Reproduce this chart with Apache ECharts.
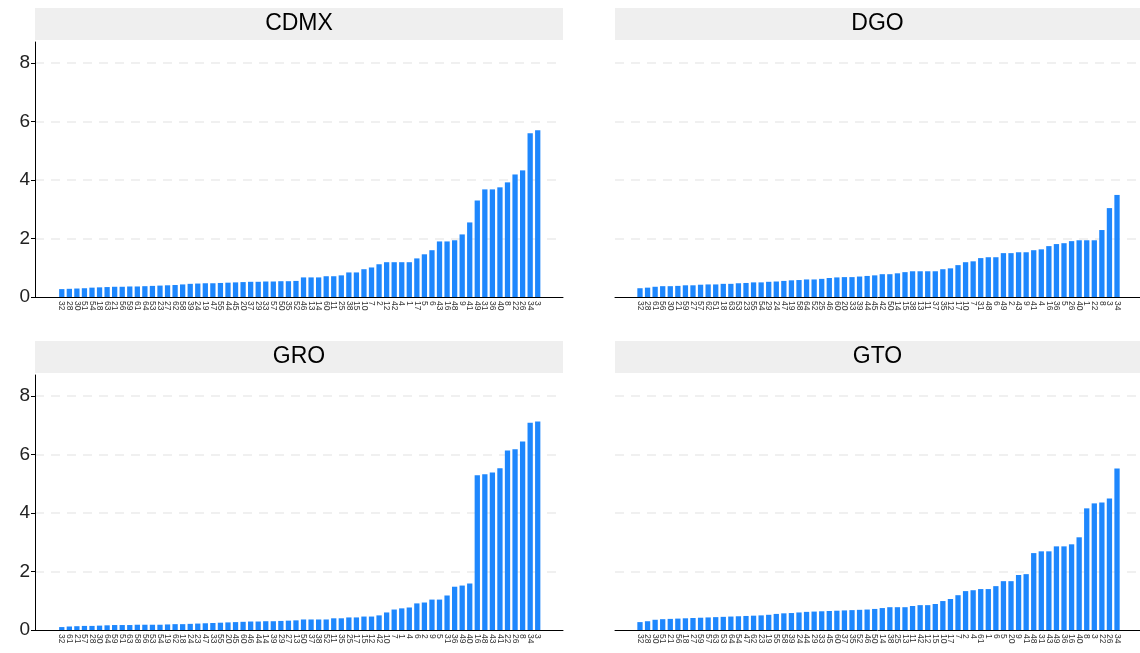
<!DOCTYPE html>
<html>
<head>
<meta charset="utf-8">
<script src="https://cdn.jsdelivr.net/npm/echarts@6/dist/echarts.min.js"></script>
<style>
  html, body { margin: 0; padding: 0; background: #fff; }
  #chart { width: 1140px; height: 653px; }
</style>
</head>
<body>
<div id="chart"></div>
<script>
// category labels and values, one pair per panel
const catsCDMX = ['32','28','30','51','54','18','63','21','56','59','61','64','53','23','27','62','58','39','24','19','47','55','44','45','20','37','29','33','57','50','35','52','46','13','14','60','11','25','38','15','10','7','2','12','42','4','1','17','5','6','43','16','48','9','41','49','31','36','40','8','22','26','34','3']
const valsCDMX = [0.27,0.28,0.29,0.30,0.32,0.33,0.34,0.35,0.35,0.36,0.36,0.37,0.38,0.39,0.40,0.41,0.43,0.45,0.46,0.47,0.47,0.48,0.49,0.50,0.51,0.52,0.52,0.53,0.53,0.54,0.54,
  0.55,0.67,0.67,0.67,0.71,0.71,0.74,0.84,0.84,0.95,1.01,1.12,1.19,1.19,1.19,1.19,1.32,1.46,1.60,1.90,1.90,1.94,2.14,2.55,3.30,3.68,3.68,3.75,3.92,4.19,4.33,5.60,5.70]

const catsDGO = ['32','28','61','56','30','21','59','27','57','62','51','18','63','53','23','55','54','29','24','47','19','58','64','52','25','46','60','20','33','39','44','45','42','50','14','15','38','13','11','37','35','12','17','10','7','31','48','6','49','2','43','9','41','4','16','36','5','26','40','1','22','8','3','34']
const valsDGO = [0.30,0.32,0.35,0.37,0.37,0.38,0.40,0.40,0.42,0.43,0.43,0.45,0.45,0.47,0.48,0.50,0.50,0.52,0.53,0.55,0.57,0.58,0.60,0.60,0.62,0.65,0.67,0.68,0.68,0.70,0.72,
  0.74,0.78,0.78,0.81,0.85,0.88,0.88,0.88,0.88,0.95,0.98,1.09,1.19,1.22,1.33,1.36,1.36,1.50,1.50,1.53,1.53,1.60,1.63,1.74,1.81,1.84,1.91,1.94,1.94,1.94,2.29,3.04,3.49]

const catsGRO = ['32','61','21','57','28','30','64','59','51','63','58','56','53','54','19','62','18','24','23','47','33','55','20','45','60','46','44','14','39','29','27','13','50','37','38','52','11','35','25','17','15','12','42','10','7','1','4','6','2','9','5','31','36','49','40','16','48','43','41','22','26','8','34','3']
const valsGRO = [0.10,0.12,0.13,0.14,0.14,0.15,0.16,0.17,0.17,0.17,0.18,0.18,0.18,0.18,0.19,0.20,0.20,0.21,0.22,0.23,0.24,0.25,0.26,0.27,0.28,0.29,0.29,0.30,0.30,0.31,0.32,
  0.33,0.36,0.36,0.36,0.36,0.40,0.40,0.43,0.43,0.46,0.46,0.50,0.60,0.70,0.74,0.77,0.91,0.94,1.04,1.04,1.18,1.48,1.52,1.59,5.29,5.33,5.39,5.53,6.14,6.18,6.45,7.09,7.13]

const catsGTO = ['32','28','30','51','21','56','18','27','59','57','63','53','64','54','47','62','23','19','55','58','39','24','44','29','33','45','60','37','35','52','46','50','14','38','25','13','11','42','12','15','10','17','7','2','4','61','1','6','5','20','9','41','48','31','43','49','36','16','40','8','3','22','26','34']
const valsGTO = [0.27,0.30,0.35,0.37,0.38,0.39,0.40,0.41,0.42,0.43,0.44,0.45,0.46,0.47,0.48,0.49,0.50,0.52,0.55,0.57,0.58,0.60,0.62,0.63,0.64,0.65,0.66,0.67,0.68,0.69,0.70,
  0.72,0.75,0.78,0.78,0.78,0.82,0.85,0.85,0.89,0.99,1.06,1.19,1.33,1.36,1.40,1.40,1.50,1.67,1.67,1.88,1.91,2.63,2.69,2.69,2.86,2.86,2.93,3.17,4.16,4.33,4.36,4.50,5.52]

const yTicks = [0, 2, 4, 6, 8]
const yMax = 8.72

const panels = [
  { name: 'CDMX', cats: catsCDMX, vals: valsCDMX, left: 35, width: 528, top: 42, barLeft: 58, barWidth: 483.5, showY: true },
  { name: 'DGO', cats: catsDGO, vals: valsDGO, left: 615, width: 525, top: 42, barLeft: 636.2, barWidth: 484.6, showY: false },
  { name: 'GRO', cats: catsGRO, vals: valsGRO, left: 35, width: 528, top: 375, barLeft: 58, barWidth: 483.5, showY: true },
  { name: 'GTO', cats: catsGTO, vals: valsGTO, left: 615, width: 525, top: 375, barLeft: 636.2, barWidth: 484.6, showY: false }
]
const plotH = 255
const font = '"Liberation Sans", Arial, sans-serif'

const grid = []
const xAxis = []
const yAxis = []
const series = []
const graphic = []

panels.forEach((p, i) => {
  const a = i * 2
  const b = a + 1
  // frame grid: axis line, y labels, dashed gridlines
  grid.push({ left: p.left, top: p.top, width: p.width, height: plotH })
  // bar grid: narrower so the bars sit inside the frame
  grid.push({ left: p.barLeft, top: p.top, width: p.barWidth, height: plotH })

  xAxis.push({
    gridIndex: a, type: 'value', min: 0, max: 1,
    axisLine: { show: true, lineStyle: { color: '#000', width: 1 } },
    axisTick: { show: false }, axisLabel: { show: false }, splitLine: { show: false }
  })
  xAxis.push({
    gridIndex: b, type: 'category', data: p.cats,
    axisLine: { show: false }, axisTick: { show: false },
    axisLabel: { interval: 0, rotate: -90, fontSize: 8.5, color: '#333', margin: 4, fontFamily: font }
  })

  yAxis.push({
    gridIndex: a, type: 'value', min: 0, max: yMax, interval: 2,
    axisLine: { show: p.showY, lineStyle: { color: '#000', width: 1 } },
    axisTick: { show: p.showY, length: 4, customValues: yTicks, lineStyle: { color: '#000' } },
    axisLabel: { show: p.showY, customValues: yTicks, fontSize: 19, color: '#222', margin: 5, fontFamily: font },
    splitLine: { show: true, showMinLine: false, lineStyle: { color: '#ececec', width: 1.5, type: [9, 7] } }
  })
  yAxis.push({ gridIndex: b, type: 'value', min: 0, max: yMax, show: false, splitLine: { show: false } })

  series.push({
    type: 'bar', name: p.name, xAxisIndex: b, yAxisIndex: b,
    data: p.vals, barWidth: '70%',
    itemStyle: { color: '#1e87fd' }, silent: true
  })

  graphic.push({
    type: 'rect',
    shape: { x: p.left, y: p.top - 34, width: p.width, height: 32 },
    style: { fill: '#efefef' },
    textContent: { style: { text: p.name, fontSize: 23, fill: '#000', fontFamily: font } },
    textConfig: { position: 'inside' }
  })
})

const chart = echarts.init(document.getElementById('chart'))
chart.setOption({
  animation: false,
  grid: grid,
  xAxis: xAxis,
  yAxis: yAxis,
  series: series,
  graphic: graphic
})
</script>
</body>
</html>
